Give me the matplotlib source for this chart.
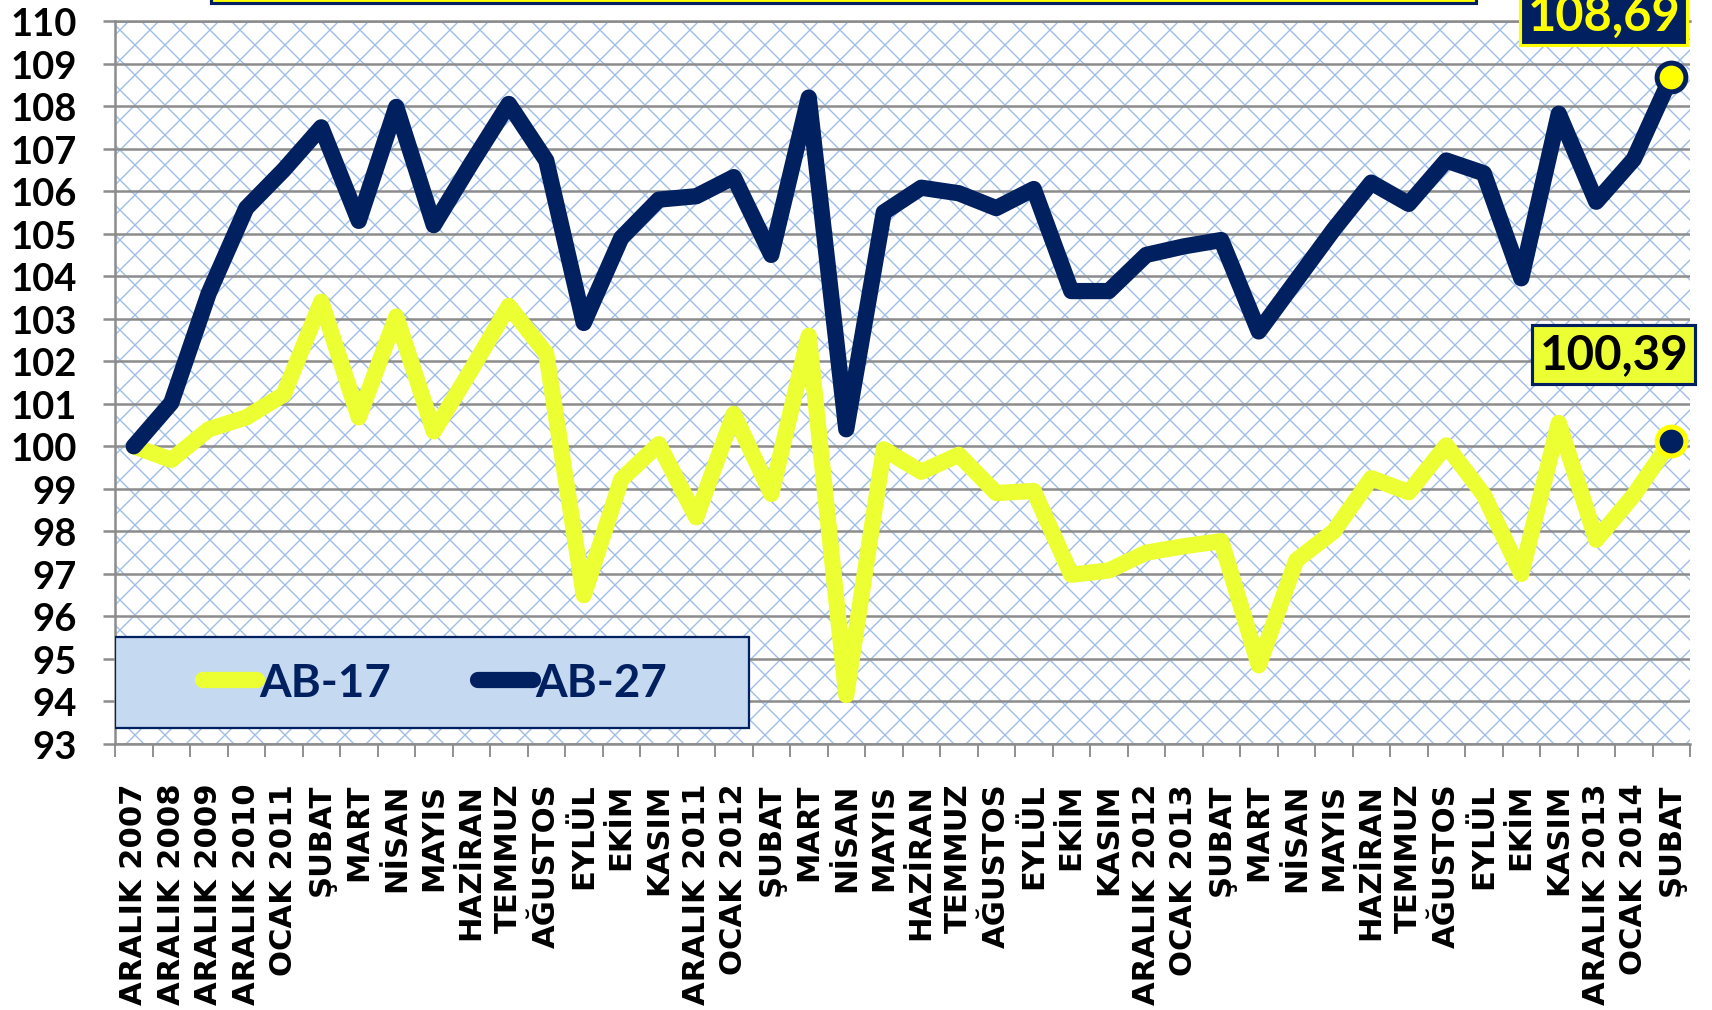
import numpy as np
import matplotlib
matplotlib.use("Agg")
import matplotlib.pyplot as plt
from matplotlib.patches import Rectangle
from matplotlib.lines import Line2D

categories = ["ARALIK 2007", "ARALIK 2008", "ARALIK 2009", "ARALIK 2010", "OCAK 2011",
              "ŞUBAT", "MART", "NİSAN", "MAYIS", "HAZİRAN", "TEMMUZ", "AĞUSTOS", "EYLÜL",
              "EKİM", "KASIM", "ARALIK 2011", "OCAK 2012", "ŞUBAT", "MART", "NİSAN", "MAYIS",
              "HAZİRAN", "TEMMUZ", "AĞUSTOS", "EYLÜL", "EKİM", "KASIM", "ARALIK 2012",
              "OCAK 2013", "ŞUBAT", "MART", "NİSAN", "MAYIS", "HAZİRAN", "TEMMUZ", "AĞUSTOS",
              "EYLÜL", "EKİM", "KASIM", "ARALIK 2013", "OCAK 2014", "ŞUBAT"]

ab17 = [100.0, 99.68, 100.4, 100.68, 101.22, 103.4, 100.68, 103.05, 100.35, 101.8,
        103.3, 102.18, 96.5, 99.22, 100.05, 98.33, 100.76, 98.88, 102.6, 94.15,
        99.93, 99.4, 99.8, 98.9, 98.95, 96.98, 97.08, 97.5, 97.65, 97.77,
        94.85, 97.32, 98.0, 99.25, 98.92, 100.02, 98.86, 97.0, 100.55, 97.8,
        98.85, 100.13]

ab27 = [100.0, 101.02, 103.6, 105.6, 106.5, 107.5, 105.3, 107.98, 105.2, 106.65,
        108.05, 106.72, 102.9, 104.9, 105.8, 105.88, 106.33, 104.5, 108.2, 100.4,
        105.5, 106.08, 105.95, 105.6, 106.05, 103.65, 103.65, 104.5, 104.7, 104.85,
        102.7, 103.9, 105.1, 106.2, 105.7, 106.72, 106.42, 103.95, 107.82, 105.75,
        106.75, 108.69]

series_names = ["AB-17", "AB-27"]
last_labels = ["100,39", "108,69"]
yticks = list(range(93, 111))

NAVY = "#002060"
YEL = "#EBFF33"
GRID = "#8C8C8C"
HATCH = "#9DBDE6"

W, H, DPI = 1712, 1011, 90
plt.rcParams["hatch.linewidth"] = 1.1
fig = plt.figure(figsize=(W / DPI, H / DPI), dpi=DPI)
fig.patch.set_facecolor("white")
ax = fig.add_axes([115 / W, 1 - 745 / H, 1575 / W, 723 / H])

x = np.arange(len(categories))
ax.set_xlim(-0.5, len(categories) - 0.5)
ax.set_ylim(93, 110)

# hatched background
bg = Rectangle((0, 0), 1, 1, transform=ax.transAxes, facecolor="white",
               edgecolor=HATCH, linewidth=0, hatch="x", zorder=0)
ax.add_patch(bg)

ax.set_yticks(yticks)
ax.yaxis.grid(True, color=GRID, linewidth=2.0, zorder=1)
ax.set_axisbelow(True)

ax.spines["right"].set_visible(False)
for s in ["left", "top", "bottom"]:
    ax.spines[s].set_color(GRID)
    ax.spines[s].set_linewidth(2.0)

LW = 13
ax.plot(x, ab17, color=YEL, lw=LW, solid_capstyle="round", solid_joinstyle="round", zorder=3)
ax.plot(x, ab27, color=NAVY, lw=LW, solid_capstyle="round", solid_joinstyle="round", zorder=4)

# end markers
ax.plot([x[-1]], [ab17[-1]], marker="o", ms=23, mfc=NAVY, mec="#FFFF00", mew=4, zorder=6)
ax.plot([x[-1]], [ab27[-1]], marker="o", ms=23, mfc="#FFFF00", mec=NAVY, mew=4, zorder=6)

# value labels
ax.annotate(last_labels[0], xy=(x[-1], ab17[-1]), xytext=(-46, 69), textcoords="offset points",
            ha="center", va="center", fontsize=38, fontweight="bold", family="Lato",
            color="black", zorder=8, annotation_clip=False,
            bbox=dict(boxstyle="square,pad=0.15", fc=YEL, ec=NAVY, lw=2.5))
ax.annotate(last_labels[1], xy=(x[-1], ab27[-1]), xytext=(-54, 49), textcoords="offset points",
            ha="center", va="center", fontsize=39, fontweight="bold", family="Lato",
            color="#FFFF00", zorder=8, annotation_clip=False,
            bbox=dict(boxstyle="square,pad=0.15", fc=NAVY, ec="#FFFF00", lw=2.5))

# ticks
ax.set_xticks(x)
ax.set_xticklabels(categories, rotation=90, fontsize=24.5, fontweight="bold",
                   family="DejaVu Sans", va="top", ha="center")
ax.set_xticks(np.arange(-0.5, len(categories), 1.0), minor=True)
ax.tick_params(axis="x", which="major", length=0, pad=31)
ax.tick_params(axis="x", which="minor", length=10, width=1.5, color=GRID)
ax.tick_params(axis="y", which="major", length=9.5, width=2, color=GRID, pad=21)
for lab in ax.get_yticklabels():
    lab.set_fontsize(30.5)
    lab.set_fontweight("bold")
    lab.set_family("Lato")

# legend
ax.add_patch(Rectangle((0.0, 0.022), 0.4025, 0.126, transform=ax.transAxes,
                       facecolor="#C5D9F1", edgecolor=NAVY, linewidth=1.8, zorder=9))
handles = [Line2D([], [], color=YEL, lw=LW, solid_capstyle="round"),
           Line2D([], [], color=NAVY, lw=LW, solid_capstyle="round")]
leg = ax.legend(handles, series_names, loc="center", bbox_to_anchor=(0.203, 0.085),
                ncol=2, frameon=False, handlelength=1.2, handletextpad=0.05,
                columnspacing=1.9, prop=dict(family="Lato", weight="bold", size=36.5))
leg.set_zorder(10)
for t in leg.get_texts():
    t.set_color(NAVY)

# title box (cut off at top)
fig.patches.append(Rectangle((211 / W, 1 - 4 / H), (1476 - 211) / W, 0.06,
                             transform=fig.transFigure, facecolor="#FFFF00",
                             edgecolor=NAVY, linewidth=2.5, zorder=0))

fig.savefig("out.png", dpi=DPI)
